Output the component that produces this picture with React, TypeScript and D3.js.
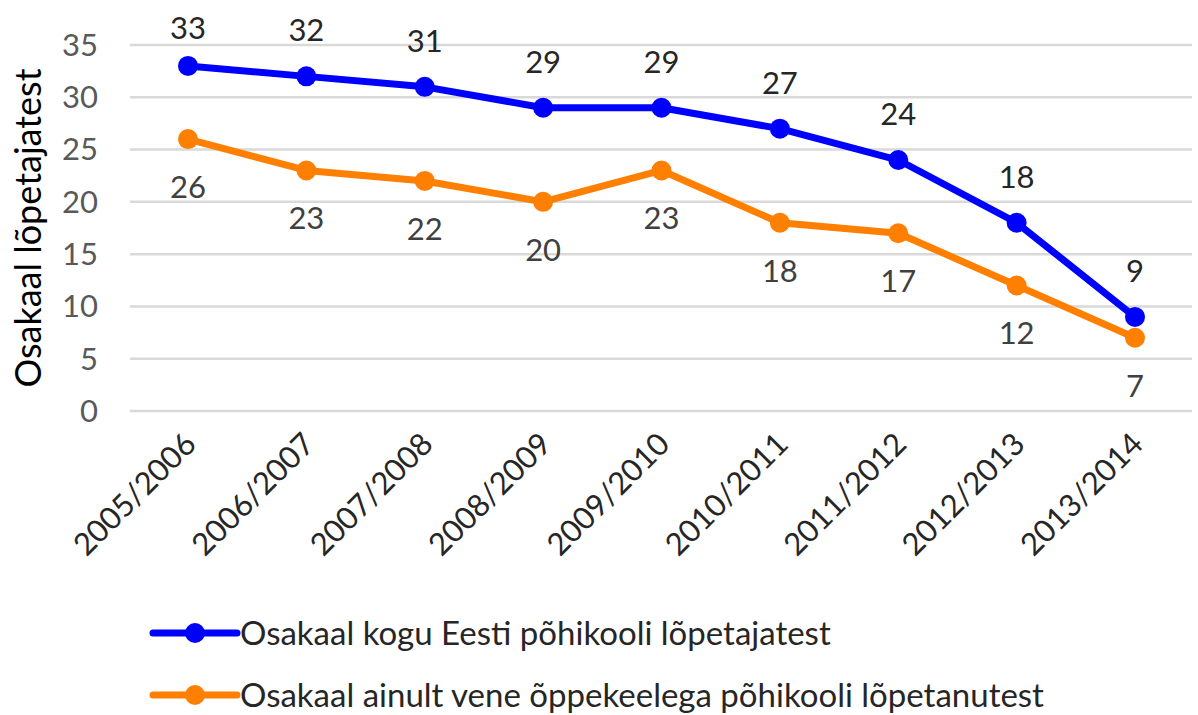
import React, { useRef, useEffect } from 'react';
import * as d3 from 'd3';

const years = ['2005/2006', '2006/2007', '2007/2008', '2008/2009', '2009/2010', '2010/2011', '2011/2012', '2012/2013', '2013/2014'];
const koguEesti = [33, 32, 31, 29, 29, 27, 24, 18, 9];
const veneKeel = [26, 23, 22, 20, 23, 18, 17, 12, 7];
const yTicks = [0, 5, 10, 15, 20, 25, 30, 35];
const seriesNames = [
  'Osakaal kogu Eesti põhikooli lõpetajatest',
  'Osakaal ainult vene õppekeelega põhikooli lõpetanutest',
];
const colors = ['#0000ff', '#ff7f00'];

const W = 1198;
const H = 715;
const FONT = 'Lato, "Open Sans", sans-serif';

const App = () => {
  const ref = useRef<SVGSVGElement | null>(null);

  useEffect(() => {
    const svg = d3.select(ref.current);
    svg.selectAll('*').remove();

    const x = d3.scalePoint().domain(years).range([188, 1135]);
    const y = d3.scaleLinear().domain([0, 35]).range([411, 45]);

    // gridlines + y ticks
    svg.append('g')
      .selectAll('line')
      .data(yTicks)
      .join('line')
      .attr('x1', 130)
      .attr('x2', 1192)
      .attr('y1', d => y(d))
      .attr('y2', d => y(d))
      .attr('stroke', '#d9d9d9')
      .attr('stroke-width', 2.5);

    svg.append('g')
      .selectAll('text')
      .data(yTicks)
      .join('text')
      .attr('x', 98)
      .attr('y', d => y(d))
      .attr('dy', '0.35em')
      .attr('text-anchor', 'end')
      .attr('fill', '#595959')
      .style('font-family', FONT)
      .style('font-size', '31px')
      .text(d => d);

    // y title
    svg.append('text')
      .attr('transform', `translate(41, 228) rotate(-90)`)
      .attr('text-anchor', 'middle')
      .attr('fill', '#000')
      .style('font-family', FONT)
      .style('font-size', '36px')
      .text('Osakaal lõpetajatest');

    // x labels
    svg.append('g')
      .selectAll('text')
      .data(years)
      .join('text')
      .attr('transform', d => `translate(${x(d)! + 10}, 446) rotate(-45)`)
      .attr('text-anchor', 'end')
      .attr('fill', '#262626')
      .style('font-family', FONT)
      .style('font-size', '31px')
      .text(d => d);

    const line = d3.line<number>()
      .x((_, i) => x(years[i])!)
      .y(d => y(d));

    [koguEesti, veneKeel].forEach((vals, si) => {
      const g = svg.append('g');
      g.append('path')
        .datum(vals)
        .attr('d', line)
        .attr('fill', 'none')
        .attr('stroke', colors[si])
        .attr('stroke-width', 7)
        .attr('stroke-linejoin', 'round');
      g.selectAll('circle')
        .data(vals)
        .join('circle')
        .attr('cx', (_, i) => x(years[i])!)
        .attr('cy', d => y(d))
        .attr('r', 10)
        .attr('fill', colors[si]);
      g.selectAll('text')
        .data(vals)
        .join('text')
        .attr('x', (_, i) => x(years[i])!)
        .attr('y', d => si === 0 ? Math.max(28, y(d) - 46) : y(d) + 48)
        .attr('dy', '0.35em')
        .attr('text-anchor', 'middle')
        .attr('fill', si === 0 ? '#262626' : '#404040')
        .style('font-family', FONT)
        .style('font-size', '31px')
        .text(d => d);
    });

    // legend
    const legend = svg.append('g')
      .selectAll('g')
      .data(seriesNames)
      .join('g')
      .attr('transform', (_, i) => `translate(0, ${633 + i * 62})`);
    legend.append('line')
      .attr('x1', 153)
      .attr('x2', 237)
      .attr('stroke', (_, i) => colors[i])
      .attr('stroke-width', 7)
      .attr('stroke-linecap', 'round');
    legend.append('circle')
      .attr('cx', 195)
      .attr('r', 10)
      .attr('fill', (_, i) => colors[i]);
    legend.append('text')
      .attr('x', 240)
      .attr('dy', '0.35em')
      .attr('fill', '#262626')
      .style('font-family', FONT)
      .style('font-size', '33px')
      .text(d => d);
  }, []);

  return (
    <svg ref={ref} width={W} height={H}
      style={{ position: 'absolute', left: 0, top: 0, background: '#fff' }} />
  );
};

export default App;
